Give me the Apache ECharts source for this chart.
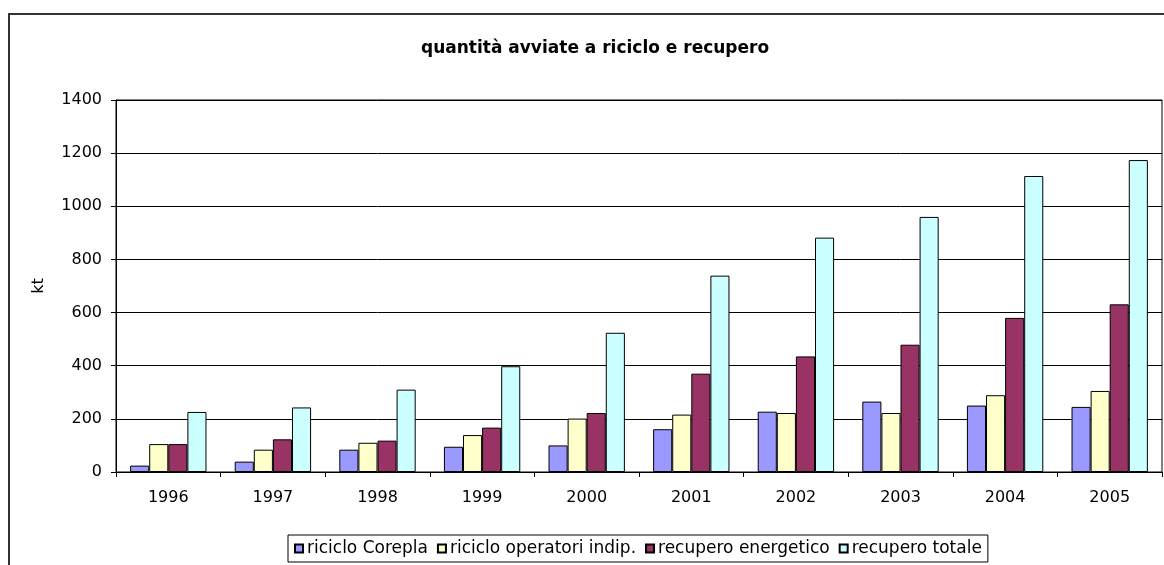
<!DOCTYPE html>
<html>
<head>
<meta charset="utf-8">
<script src="https://cdn.jsdelivr.net/npm/echarts@6/dist/echarts.min.js"></script>
<style>
  html, body { margin: 0; padding: 0; background: #fff; }
  #chart { width: 1164px; height: 565px; }
</style>
</head>
<body>
<div id="chart"></div>
<script>
// Anni e quantità (kt) avviate a riciclo e recupero
const years = ['1996', '1997', '1998', '1999', '2000', '2001', '2002', '2003', '2004', '2005'];
const ricicloCorepla = [24, 39, 84, 95, 100, 161, 227, 265, 250, 245];
const ricicloOperatori = [105, 84, 110, 139, 201, 216, 222, 222, 289, 305];
const recuperoEnergetico = [105, 123, 118, 167, 222, 370, 435, 479, 580, 631];
const recuperoTotale = [226, 243, 310, 398, 524, 739, 882, 960, 1114, 1174];

const seriesNames = ['riciclo Corepla', 'riciclo operatori indip.', 'recupero energetico', 'recupero totale'];
const seriesData = [ricicloCorepla, ricicloOperatori, recuperoEnergetico, recuperoTotale];
const seriesColors = ['#9999FF', '#FFFFCC', '#993366', '#CCFFFF'];

const FONT = 'DejaVu Sans';

const chart = echarts.init(document.getElementById('chart'), null, { renderer: 'canvas' });

chart.setOption({
  animation: false,
  backgroundColor: '#ffffff',
  title: {
    text: 'quantità avviate a riciclo e recupero',
    left: 416,
    top: 35,
    textStyle: { fontFamily: FONT, fontSize: 17, fontWeight: 'bold', color: '#000' }
  },
  graphic: [{
    type: 'rect',
    shape: { x: 9, y: 14, width: 1200, height: 600 },
    style: { fill: 'none', stroke: '#333', lineWidth: 2 },
    silent: true,
    z: -1
  }],
  legend: {
    bottom: 3,
    left: 288,
    itemWidth: 8,
    itemHeight: 8,
    itemGap: 9,
    padding: [5, 6, 5, 6],
    borderColor: '#000',
    borderWidth: 1,
    icon: 'rect',
    textStyle: { fontFamily: FONT, fontSize: 17, color: '#000', padding: [0, 0, 0, -1] },
    data: seriesNames
  },
  grid: {
    left: 116, right: 2, top: 100, bottom: 93,
    show: true, borderColor: '#000', borderWidth: 1
  },
  xAxis: {
    type: 'category',
    data: years,
    axisLine: { lineStyle: { color: '#000', width: 1 } },
    axisTick: { show: true, length: 5, lineStyle: { color: '#000' } },
    axisLabel: { fontFamily: FONT, fontSize: 16, color: '#000', margin: 18 }
  },
  yAxis: {
    type: 'value',
    min: 0, max: 1400, interval: 200,
    name: 'kt',
    nameLocation: 'middle',
    nameGap: 69,
    nameRotate: 90,
    nameTextStyle: { fontFamily: FONT, fontSize: 16, color: '#000' },
    axisLine: { show: true, lineStyle: { color: '#000', width: 1 } },
    axisTick: { show: true, length: 5, lineStyle: { color: '#000' } },
    axisLabel: {
      fontFamily: FONT, fontSize: 16, color: '#000', margin: 14,
      formatter: (v) => String(v)
    },
    splitLine: { show: true, lineStyle: { color: '#000', width: 1 } }
  },
  series: seriesNames.map((name, i) => ({
    name: name,
    type: 'bar',
    data: seriesData[i],
    barGap: '0%',
    barCategoryGap: '27%',
    itemStyle: { color: seriesColors[i], borderColor: '#000', borderWidth: 1 }
  }))
});
</script>
</body>
</html>
